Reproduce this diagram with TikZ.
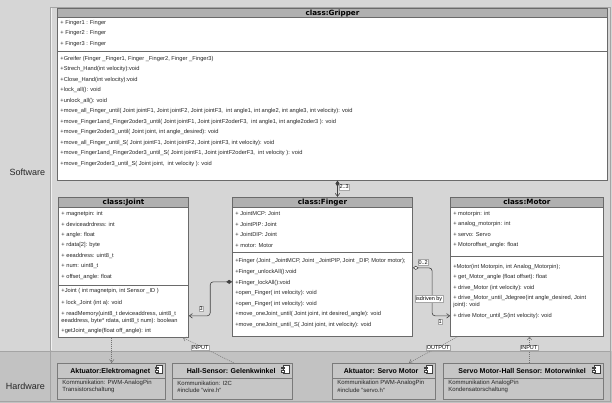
\documentclass[tikz,border=0pt]{standalone}
\usepackage{fontspec}
\setmainfont{Liberation Sans}
\newfontfamily\hdrfont{DejaVu Sans}
\usetikzlibrary{arrows.meta}
\definecolor{bgmain}{HTML}{D6D6D6}
\definecolor{bghw}{HTML}{C2C2C2}
\definecolor{hdrfill}{HTML}{B0B0B0}
\definecolor{bordr}{HTML}{6A6A6A}
\definecolor{hwfill}{HTML}{C6C6C6}
\definecolor{hwbord}{HTML}{7A7A7A}
\definecolor{laneline}{HTML}{A4A4A4}
\newcommand\mytl[4]{\node[txt] (#1) at (#2,#3) {#4};}
\newcommand\hwtl[4]{\node[hwtxt] (#1) at (#2,#3) {#4};}
\newcommand\hwicon[2]{%
  \draw[fill=white,draw=black!75,line width=0.35pt] (#1,#2) rectangle ++(6,8);
  \draw[fill=white,draw=black!75,line width=0.35pt] (#1-1.5,#2+1.4) rectangle ++(3,1.6);
  \draw[fill=white,draw=black!75,line width=0.35pt] (#1-1.5,#2+4.8) rectangle ++(3,1.6);}
\begin{document}
\begin{tikzpicture}[x=1pt,y=-1pt,
  txt/.style={font=\fontsize{5.7}{6.5}\selectfont, anchor=west, inner sep=0pt, text=black!85},
  clsbox/.style={draw=bordr, fill=white, line width=0.7pt, anchor=north west, inner sep=0pt},
  clshdr/.style={draw=bordr, fill=hdrfill, line width=0.7pt, anchor=north west, inner sep=0pt,
     font=\hdrfont\bfseries\fontsize{7.2}{8}\selectfont},
  sepline/.style={draw=bordr, line width=0.6pt},
  hwbox/.style={draw=hwbord, fill=hwfill, line width=0.9pt, anchor=north west, inner sep=0pt},
  hwtitle/.style={font=\bfseries\fontsize{7}{8}\selectfont, inner sep=0pt},
  hwtxt/.style={font=\fontsize{6}{7}\selectfont, anchor=west, inner sep=0pt, text=black!85},
  lane/.style={font=\fontsize{9}{10}\selectfont, inner sep=0pt, text=black!85},
  lbl/.style={font=\fontsize{5.5}{6}\selectfont, fill=white, draw=black!35, line width=0.3pt, inner sep=0.8pt},
  assoc/.style={draw=black!75, line width=0.6pt, rounded corners=3pt},
  dep/.style={draw=black!55, line width=0.5pt, dash pattern=on 1pt off 1pt, -{Straight Barb[length=3pt,width=4.5pt]}},
]
% background and lanes
\fill[bgmain] (0,0) rectangle (612,403);
\fill[bghw] (0,351) rectangle (612,403);
\draw[laneline, line width=0.6pt] (50,7) -- (610,7) -- (610,401) -- (0,401);
\draw[laneline, line width=0.6pt] (50,7) -- (50,401);
\draw[laneline, line width=0.6pt] (0,351) -- (610,351);
\draw[white!90!gray, line width=0.5pt] (51,8) -- (51,350);
\node[lane] (swlabel) at (27,172) {Software};
\node[lane] (hwlabel) at (25,386) {Hardware};

% ---------------- Gripper
\node[clsbox, minimum width=550pt, minimum height=172pt] (gripper) at (57,8) {};
\node[clshdr, minimum width=550pt, minimum height=9.5pt] (gripperh) at (57,8) {class:Gripper};
\draw[sepline] (57,51) -- (607,51);
\mytl{ga1}{60}{23}{+ Finger1 : Finger}
\mytl{ga2}{60}{33.5}{+ Finger2 : Finger}
\mytl{ga3}{60}{44}{+ Finger3 : Finger}
\mytl{gm1}{60}{59}{+Greifer (Finger \_Finger1, Finger \_Finger2, Finger \_Finger3)}
\mytl{gm2}{60}{69.5}{+Strech\_Hand(int velocity):void}
\mytl{gm3}{60}{80}{+Close\_Hand(int velocity):void}
\mytl{gm4}{60}{90.5}{+lock\_all(): void}
\mytl{gm5}{60}{101}{+unlock\_all(): void}
\mytl{gm6}{60}{111.5}{+move\_all\_Finger\_until( Joint jointF1, Joint jointF2, Joint jointF3,\ \ int angle1, int angle2, int angle3, int velocity): void}
\mytl{gm7}{60}{122}{+move\_Finger1and\_Finger2oder3\_until( Joint jointF1, Joint jointF2oderF3,\ \ int angle1, int angle2oder3 ): void}
\mytl{gm8}{60}{132.5}{+move\_Finger2oder3\_until( Joint joint, int angle\_desired): void}
\mytl{gm9}{60}{143}{+move\_all\_Finger\_until\_S( Joint jointF1, Joint jointF2, Joint jointF3, int velocity): void}
\mytl{gm10}{60}{153.5}{+move\_Finger1and\_Finger2oder3\_until\_S( Joint jointF1, Joint jointF2oderF3,\ \ int velocity ): void}
\mytl{gm11}{60}{164}{+move\_Finger2oder3\_until\_S( Joint joint,\ \ int velocity ): void}

% ---------------- Joint
\node[clsbox, minimum width=130pt, minimum height=140pt] (joint) at (58,197) {};
\node[clshdr, minimum width=130pt, minimum height=10pt] (jointh) at (58,197) {class:Joint};
\draw[sepline] (58,285) -- (188,285);
\mytl{ja1}{61}{214}{+ magnetpin: int}
\mytl{ja2}{61}{224.5}{+ deviceadrdress: int}
\mytl{ja3}{61}{235}{+ angle: float}
\mytl{ja4}{61}{245.5}{+ rdata[2]: byte}
\mytl{ja5}{61}{256}{+ eeaddress: uint8\_t}
\mytl{ja6}{61}{266.5}{+ num: uint8\_t}
\mytl{ja7}{61}{277}{+ offset\_angle: float}
\mytl{jm1}{61}{291.5}{+Joint ( int magnetpin, int Sensor \_ID )}
\mytl{jm2}{61}{303}{+ lock\_Joint (int a): void}
\mytl{jm3}{61}{314}{+ readMemory(uint8\_t deviceaddress, uint8\_t}
\mytl{jm4}{61}{320.8}{eeaddress, byte* rdata, uint8\_t num): boolean}
\mytl{jm5}{61}{331}{+getJoint\_angle(float off\_angle): int}

% ---------------- Finger
\node[clsbox, minimum width=180pt, minimum height=139pt] (finger) at (232,197) {};
\node[clshdr, minimum width=180pt, minimum height=10pt] (fingerh) at (232,197) {class:Finger};
\draw[sepline] (232,252) -- (412,252);
\mytl{fa1}{235}{214}{+ JointMCP: Joint}
\mytl{fa2}{235}{224.5}{+ JointPIP: Joint}
\mytl{fa3}{235}{235}{+ JointDIP: Joint}
\mytl{fa4}{235}{245.5}{+ motor: Motor}
\mytl{fm1}{235}{261}{+Finger (Joint \_JointMCP, Joint \_JointPIP, Joint \_DIP, Motor motor);}
\mytl{fm2}{235}{272}{+Finger\_unlockAll():void}
\mytl{fm3}{235}{283}{+Finger\_lockAll():void}
\mytl{fm4}{235}{293.5}{+open\_Finger( int velocity): void}
\mytl{fm5}{235}{304}{+open\_Finger( int velocity): void}
\mytl{fm6}{235}{314.5}{+move\_oneJoint\_until( Joint joint, int desired\_angle): void}
\mytl{fm7}{235}{325}{+move\_oneJoint\_until\_S( Joint joint, int velocity): void}

% ---------------- Motor
\node[clsbox, minimum width=153pt, minimum height=139pt] (motor) at (450,197) {};
\node[clshdr, minimum width=153pt, minimum height=10pt] (motorh) at (450,197) {class:Motor};
\draw[sepline] (450,256) -- (603,256);
\mytl{ma1}{453}{214}{+ motorpin: int}
\mytl{ma2}{453}{224.5}{+ analog\_motorpin: int}
\mytl{ma3}{453}{235}{+ servo: Servo}
\mytl{ma4}{453}{245.5}{+ Motoroffset\_angle: float}
\mytl{mm1}{453}{267}{+Motor(int Motorpin, int Analog\_Motorpin);}
\mytl{mm2}{453}{277.5}{+ get\_Motor\_angle (float offset): float}
\mytl{mm3}{453}{288}{+ drive\_Motor (int velocity): void}
\mytl{mm4}{453}{298.5}{+ drive\_Motor\_until\_Jdegree(int angle\_desired, Joint}
\mytl{mm5}{453}{305.3}{joint): void}
\mytl{mm6}{453}{316.5}{+ drive Motor\_until\_S(int velocity): void}

% ---------------- Hardware components
\node[hwbox, minimum width=108pt, minimum height=36pt] (elek) at (57,363) {};
\node[hwtitle] (elekt) at (110,371.5) {Aktuator:Elektromagnet};
\hwicon{156}{365.5}
\draw[hwbord, line width=0.6pt] (57,378) -- (165,378);
\hwtl{elek1}{62}{383.5}{Kommunikation: PWM-AnalogPin}
\hwtl{elek2}{62}{390.5}{Transistorschaltung}

\node[hwbox, minimum width=120pt, minimum height=36pt] (hall) at (172,363) {};
\node[hwtitle] (hallt) at (231,371.5) {Hall-Sensor: Gelenkwinkel};
\hwicon{283}{365.5}
\draw[hwbord, line width=0.6pt] (172,378) -- (292,378);
\hwtl{hall1}{177}{383.5}{Kommunikation: I2C}
\hwtl{hall2}{177}{390.5}{\#include "wire.h"}

\node[hwbox, minimum width=103pt, minimum height=36pt] (servo) at (332,363) {};
\node[hwtitle] (servot) at (381,371.5) {Aktuator: Servo Motor};
\hwicon{426}{365.5}
\draw[hwbord, line width=0.6pt] (332,378) -- (435,378);
\hwtl{servo1}{337}{383.5}{Kommunikation PWM-AnalogPin}
\hwtl{servo2}{337}{390.5}{\#include "servo.h"}

\node[hwbox, minimum width=160pt, minimum height=36pt] (mw) at (443,363) {};
\node[hwtitle] (mwt) at (522,371.5) {Servo Motor-Hall Sensor: Motorwinkel};
\hwicon{594}{365.5}
\draw[hwbord, line width=0.6pt] (443,378) -- (603,378);
\hwtl{mw1}{448}{383.5}{Kommunikation AnalogPin}
\hwtl{mw2}{448}{390.5}{Kondensatorschaltung}

% ---------------- Associations
\coordinate (gfx) at ([xshift=15pt]finger.north);
\draw[assoc, {Diamond[length=6pt,width=4pt]}-{Straight Barb[length=3pt,width=4.5pt]}]
  (gripper.south -| gfx) -- (gfx);
\node[lbl] (l23) at (344,187) {2..3};

\draw[assoc, {Diamond[length=6pt,width=4pt]}-{Straight Barb[length=3pt,width=4.5pt]}]
  (finger.west |- 0,282) -- (210,282) -- (210,316) -- (joint.east |- 0,316);
\node[lbl] (l3) at (201,309) {3};

\draw[assoc, {Diamond[open,fill=white,length=6pt,width=4pt]}-{Straight Barb[length=3pt,width=4.5pt]}]
  (finger.east |- 0,268) -- (432,268) -- (432,316) -- (motor.west |- 0,316);
\node[lbl] (l02) at (423,262.5) {0..2};
\node[lbl] (lisd) at (429,299) {isdriven by};
\node[lbl] (l1) at (440,322) {1};

% ---------------- Dependencies
\draw[dep] (joint.south -| elek.north) -- (elek.north);
\draw[dep] ([xshift=1pt]hall.north) -- ([xshift=-6pt]joint.south east);
\node[lbl] (lin1) at (200,348) {INPUT};
\draw[dep] ([xshift=8pt]motor.south west) -- ([xshift=-27pt]servo.north east);
\node[lbl] (lout) at (438,348) {OUTPUT};
\coordinate (mwx) at ([xshift=6pt]mw.north);
\draw[dep] (mwx) -- (motor.south -| mwx);
\node[lbl] (lin2) at (529,348) {INPUT};
\end{tikzpicture}
\end{document}
